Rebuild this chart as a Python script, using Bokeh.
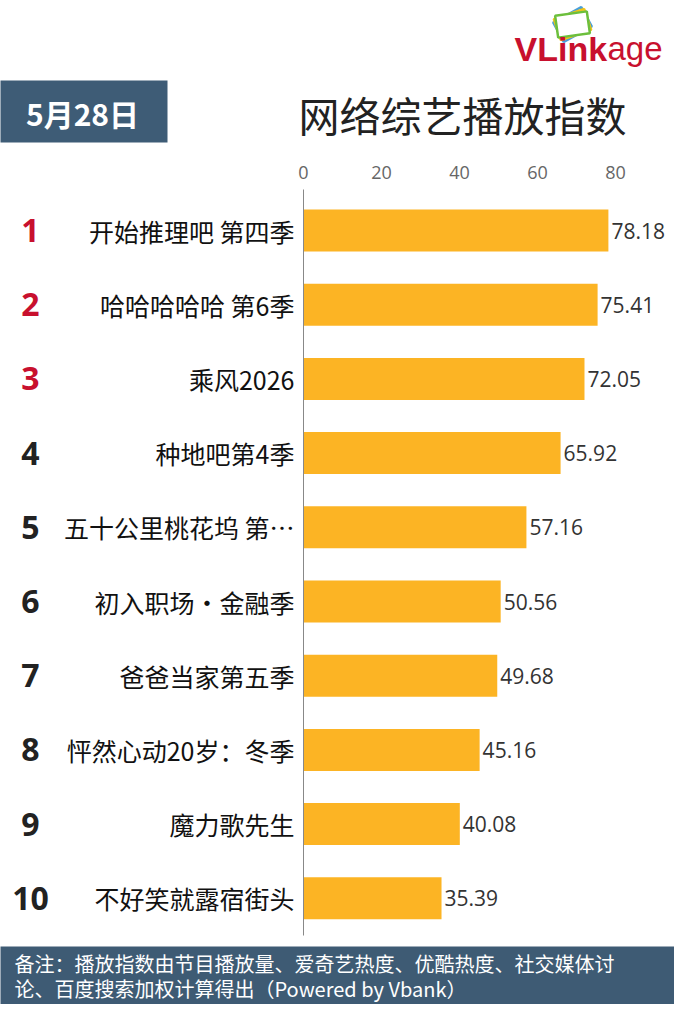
from bokeh.plotting import figure
from bokeh.models import Range1d
from bokeh.core.properties import value
from bokeh.embed import file_html
from bokeh.resources import INLINE

# ---- data ----
ranks = [1, 2, 3, 4, 5, 6, 7, 8, 9, 10]
shows = ["开始推理吧 第四季", "哈哈哈哈哈 第6季", "乘风2026", "种地吧第4季",
         "五十公里桃花坞 第…", "初入职场·金融季", "爸爸当家第五季",
         "怦然心动20岁：冬季", "魔力歌先生", "不好笑就露宿街头"]
scores = [78.18, 75.41, 72.05, 65.92, 57.16, 50.56, 49.68, 45.16, 40.08, 35.39]
ticks = [0, 20, 40, 60, 80]
tick_labels = ["0", "20", "40", "60", "80"]
date_text = "5月28日"
title_text = "网络综艺播放指数"
note_lines = ["备注：播放指数由节目播放量、爱奇艺热度、优酷热度、社交媒体讨",
              "论、百度搜索加权计算得出（Powered by Vbank）"]

# ---- layout (pixel mapping of the full canvas) ----
W, H = 674, 1004
X0PX, XSCALE = 303.0, 3.9      # pixel of value 0, px per unit
Y1PX, YSTEP = 230.0, 74.2      # pixel of rank 1 centre, px per rank

def dx(px):
    return (px - X0PX) / XSCALE

def dy(py):
    return 1 + (py - Y1PX) / YSTEP

p = figure(width=W, height=H, output_backend="svg", toolbar_location=None,
           x_range=Range1d(dx(0), dx(W)), y_range=Range1d(dy(H), dy(0)),
           x_axis_location=None, y_axis_location=None, min_border=0)
p.outline_line_color = None
p.xgrid.visible = False
p.ygrid.visible = False
p.background_fill_color = "white"

CJK = value("Noto Sans CJK SC")

# header date box
p.quad(left=dx(-10), right=dx(167), top=dy(80), bottom=dy(142),
       fill_color="#3e5c76", line_color=None)
p.text(x=[dx(82)], y=[dy(112)], text=[date_text], text_font=CJK,
       text_font_size="30px", text_font_style="bold", text_color="white",
       text_align="center", text_baseline="middle")

# title
p.text(x=[dx(462)], y=[dy(113)], text=[title_text], text_font=CJK,
       text_font_size="41px", text_color="#222222",
       text_align="center", text_baseline="middle")

# logo
for ang, col in [(0.50, "#4a9fd8"), (0.32, "#f0c419"), (0.14, "#6cbf3c")]:
    p.rect(x=[dx(572)], y=[dy(24)], width=32, height=22, width_units="screen",
           height_units="screen", angle=ang, fill_color="white",
           line_color=col, line_width=2.5)
p.text(x=[dx(514)], y=[dy(48)], text=["VLink"], text_font=value("Liberation Sans"),
       text_font_size="34px", text_font_style="bold", text_color="#c8102e",
       text_align="left", text_baseline="middle")
p.text(x=[dx(607)], y=[dy(48)], text=["age"], text_font=value("Liberation Sans"),
       text_font_size="33px", text_color="#c8102e",
       text_align="left", text_baseline="middle")

# tick labels
p.text(x=ticks, y=[dy(172)] * len(ticks), text=tick_labels,
       text_font=value("Open Sans"), text_font_size="18px", text_color="#666666",
       text_align="center", text_baseline="middle")

# bars
p.hbar(y=ranks, right=scores, left=0, height=42 / YSTEP,
       fill_color="#fcb424", line_color=None)

# axis line
p.segment(x0=[0], x1=[0], y0=[dy(189)], y1=[dy(935)], line_color="#888888",
          line_width=1)

# value labels
p.text(x=[s + 3 / XSCALE for s in scores], y=ranks,
       text=[f"{s:.2f}" for s in scores], text_font=value("Open Sans"),
       text_font_size="21px", text_color="#333333",
       text_align="left", text_baseline="middle")

# show names
p.text(x=[dx(294)] * len(ranks), y=ranks, text=shows, text_font=CJK,
       text_font_size="25px", text_color="#111111",
       text_align="right", text_baseline="middle")

# rank numbers
rank_colors = ["#c8102e" if r <= 3 else "#222222" for r in ranks]
p.text(x=[dx(30)] * len(ranks), y=ranks, text=[str(r) for r in ranks],
       text_font=value("Open Sans"), text_font_size="32px",
       text_font_style="bold", text_color=rank_colors,
       text_align="center", text_baseline="middle")

# footer
p.quad(left=dx(-10), right=dx(W + 10), top=dy(946), bottom=dy(H + 10),
       fill_color="#3e5b74", line_color=None)
p.text(x=[dx(14)] * 2, y=[dy(963), dy(988)], text=note_lines, text_font=CJK,
       text_font_size="20px", text_color="white",
       text_align="left", text_baseline="middle")

open("out.html", "w").write(file_html(p, INLINE))
